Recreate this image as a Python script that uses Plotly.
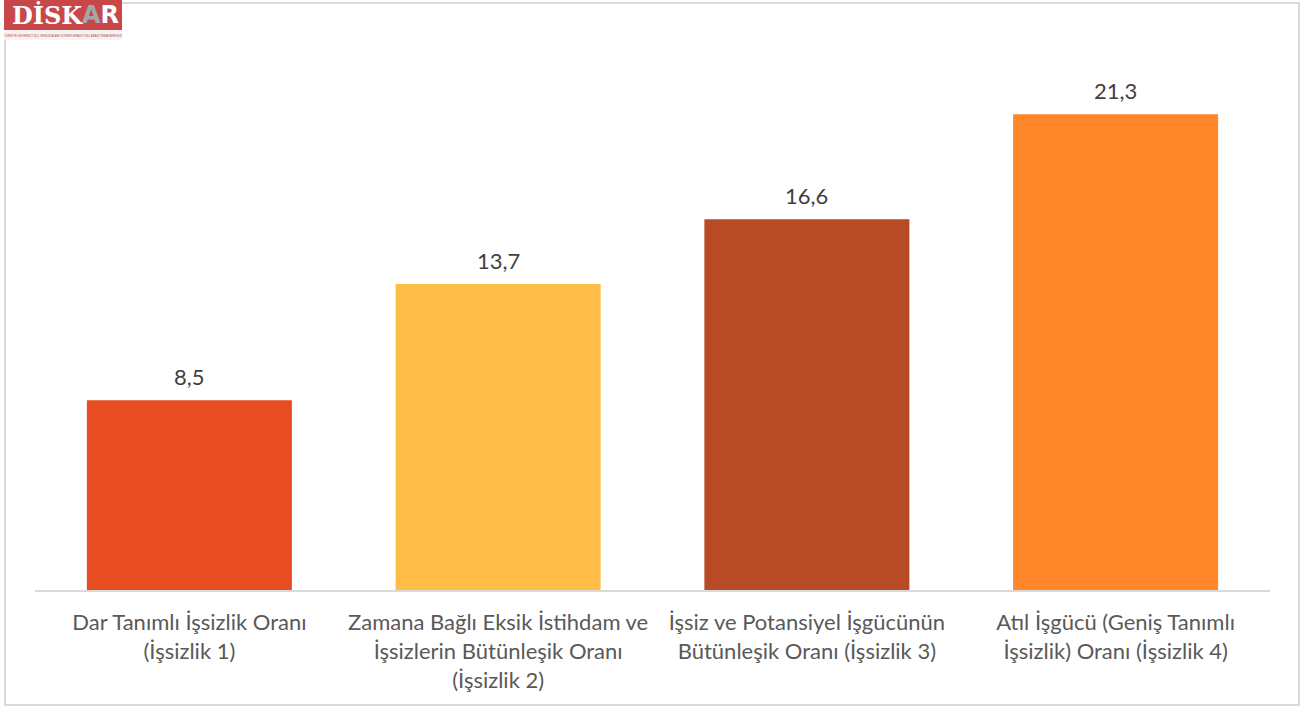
import plotly.graph_objects as go

categories = [
    "Dar Tanımlı İşsizlik Oranı<br>(İşsizlik 1)",
    "Zamana Bağlı Eksik İstihdam ve<br>İşsizlerin Bütünleşik Oranı<br>(İşsizlik 2)",
    "İşsiz ve Potansiyel İşgücünün<br>Bütünleşik Oranı (İşsizlik 3)",
    "Atıl İşgücü (Geniş Tanımlı<br>İşsizlik) Oranı (İşsizlik 4)",
]
values = [8.5, 13.7, 16.6, 21.3]
value_labels = ["8,5", "13,7", "16,6", "21,3"]
colors = ["#E84C22", "#FFBD47", "#B84A25", "#FF8629"]

W, H = 1304, 710
FONT = "Lato"
TXT = "#595959"
PL, PT, PW, PH = 35, 54, 1235, 536  # plot area in pixels


def px(x):
    return (x - PL) / PW


def py(y):
    return (PT + PH - y) / PH


fig = go.Figure()
fig.add_trace(go.Bar(
    x=categories, y=values, marker=dict(color=colors, line=dict(width=0)),
    hoverinfo="skip",
))

value_annotations = [
    dict(x=c, y=v, xref="x", yref="y", text=t, showarrow=False,
         xanchor="center", yanchor="bottom", yshift=8,
         font=dict(family=FONT, size=22, color="#404040"))
    for c, v, t in zip(categories, values, value_labels)
]

fig.update_layout(
    width=W, height=H,
    margin=dict(l=PL, r=W - PL - PW, t=PT, b=H - PT - PH, autoexpand=False),
    paper_bgcolor="white", plot_bgcolor="white",
    bargap=0.336,
    showlegend=False,
    font=dict(family=FONT, color=TXT, size=22),
    xaxis=dict(showline=True, linecolor="#D9D9D9", linewidth=2, ticks="",
               tickfont=dict(family=FONT, size=22, color=TXT), showgrid=False,
               ticklabelstandoff=12, fixedrange=True),
    yaxis=dict(range=[0, 24], visible=False, showgrid=False, fixedrange=True),
    shapes=[
        dict(type="rect", xref="paper", yref="paper",
             x0=px(5), x1=px(1299), y0=py(705), y1=py(3),
             line=dict(color="#D9D9D9", width=2), fillcolor="rgba(0,0,0,0)", layer="below"),
        dict(type="rect", xref="paper", yref="paper",
             x0=px(4), x1=px(122), y0=py(30), y1=py(0),
             line=dict(width=0), fillcolor="#C8484A"),
        dict(type="rect", xref="paper", yref="paper",
             x0=px(4), x1=px(122), y0=py(40), y1=py(30),
             line=dict(width=0), fillcolor="#F4F4F4"),
    ],
    annotations=value_annotations + [
        dict(xref="paper", yref="paper", x=px(10), y=py(15), xanchor="left", yanchor="middle",
             text="<b>DİSK</b>", showarrow=False,
             font=dict(family="DejaVu Serif", size=24, color="white")),
        dict(xref="paper", yref="paper", x=px(80), y=py(15), xanchor="left", yanchor="middle",
             text="<b><span style='color:#A6A6A6'>A</span>R</b>", showarrow=False,
             font=dict(family="DejaVu Sans", size=24, color="white")),
        dict(xref="paper", yref="paper", x=px(63), y=py(35), xanchor="center", yanchor="middle",
             text="TÜRKİYE DEVRİMCİ İŞÇİ SENDİKALARI KONFEDERASYONU ARAŞTIRMA MERKEZİ", showarrow=False,
             font=dict(family="Liberation Sans", size=3, color="#C8484A")),
    ],
)

fig.write_html("out.html", config={"displayModeBar": False},
               post_script="document.body.style.margin='0';")
